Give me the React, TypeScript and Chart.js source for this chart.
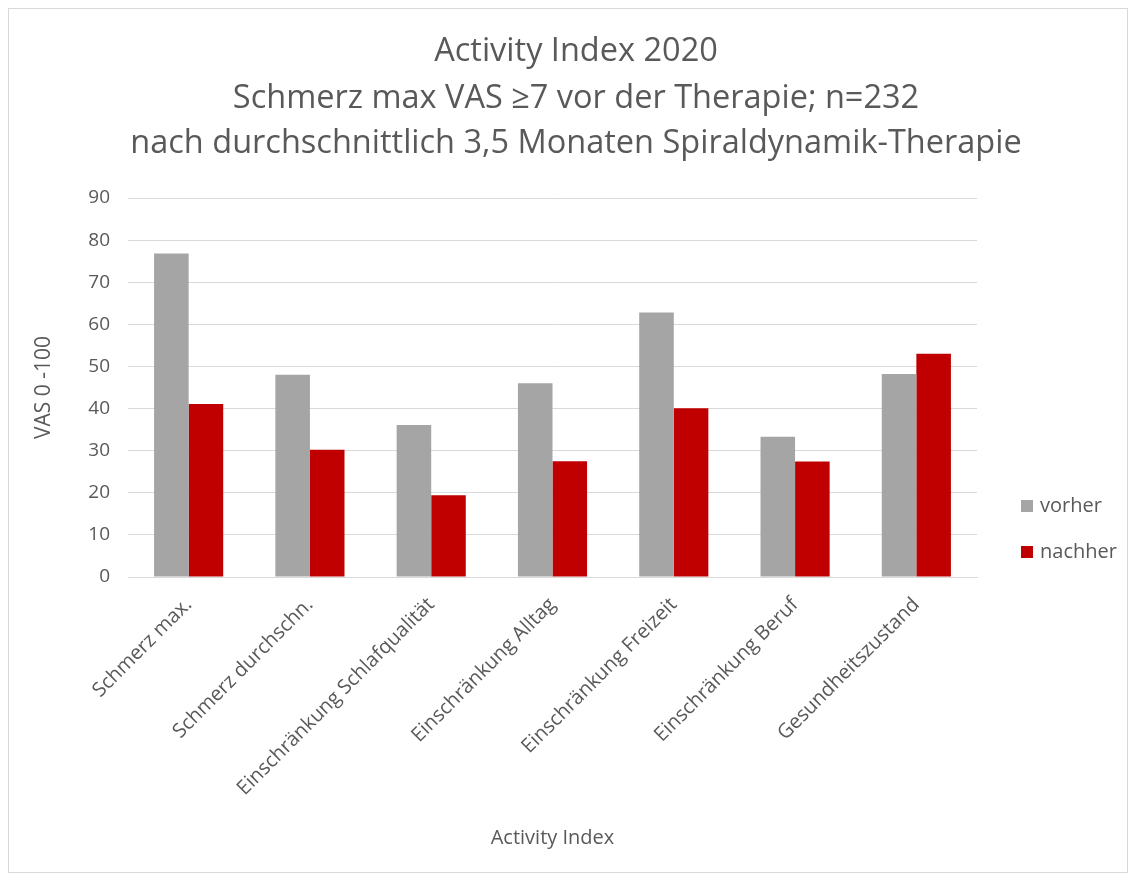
import React, { useEffect, useRef } from "react";
import { Chart, registerables } from "chart.js";

Chart.register(...registerables);

const categories = [
  "Schmerz max.",
  "Schmerz durchschn.",
  "Einschränkung Schlafqualität",
  "Einschränkung Alltag",
  "Einschränkung Freizeit",
  "Einschränkung Beruf",
  "Gesundheitszustand",
];
const vorher = [76.8, 48.0, 36.1, 46.0, 62.8, 33.3, 48.2];
const nachher = [41.1, 30.2, 19.4, 27.5, 40.1, 27.4, 53.0];
const titleLines = [
  "Activity Index 2020",
  "Schmerz max VAS ≥7 vor der Therapie; n=232",
  "nach durchschnittlich 3,5 Monaten Spiraldynamik-Therapie",
];
const yTitle = "VAS 0 -100";
const xTitle = "Activity Index";

const TEXT = "#595959";
const FONT = "'Open Sans', sans-serif";

const decorPlugin = {
  id: "decor",
  afterDraw(chart: any) {
    const ctx = chart.ctx;
    ctx.save();
    // title
    ctx.fillStyle = TEXT;
    ctx.textAlign = "center";
    ctx.textBaseline = "middle";
    ctx.font = `32.5px ${FONT}`;
    const tys = [43, 90, 135];
    titleLines.forEach((t, i) => ctx.fillText(t, 567, tys[i]));
    // legend
    ctx.font = `20px ${FONT}`;
    ctx.textAlign = "left";
    const x = chart.chartArea.right + 44;
    const ys = [497, 543];
    chart.data.datasets.forEach((ds: any, i: number) => {
      ctx.fillStyle = ds.backgroundColor;
      ctx.fillRect(x, ys[i] - 6, 12, 12);
      ctx.fillStyle = TEXT;
      ctx.fillText(ds.label, x + 19, ys[i]);
    });
    ctx.restore();
  },
};

export default function App() {
  const ref = useRef<HTMLCanvasElement>(null);
  useEffect(() => {
    if (!ref.current) return;
    const chart = new Chart(ref.current, {
      type: "bar",
      data: {
        labels: categories,
        datasets: [
          { label: "vorher", data: vorher, backgroundColor: "#a5a5a5" },
          { label: "nachher", data: nachher, backgroundColor: "#c00000" },
        ],
      },
      plugins: [decorPlugin],
      options: {
        responsive: false,
        animation: false,
        layout: { padding: { left: 0, right: 150, top: 189, bottom: 0 } },
        datasets: { bar: { categoryPercentage: 0.57, barPercentage: 1.0 } },
        plugins: {
          legend: { display: false },
          tooltip: { enabled: false },
          title: { display: false },
        },
        scales: {
          x: {
            grid: { display: false },
            border: { color: "#d9d9d9", width: 1 },
            ticks: {
              color: TEXT,
              font: { family: FONT, size: 20 },
              maxRotation: 45,
              minRotation: 45,
              autoSkip: false,
              padding: 8,
            },
            title: {
              display: true,
              text: xTitle,
              color: TEXT,
              font: { family: FONT, size: 20 },
              padding: { top: 10, bottom: 22 },
            },
            afterFit: (s: any) => {
              s.height = 295;
            },
          },
          y: {
            min: 0,
            max: 90,
            ticks: {
              stepSize: 10,
              color: TEXT,
              font: { family: FONT, size: 19 },
              padding: 18,
            },
            grid: { color: "#d9d9d9", drawTicks: false },
            border: { display: false },
            title: {
              display: true,
              text: yTitle,
              color: TEXT,
              font: { family: FONT, size: 21 },
              padding: { top: 22, bottom: 4 },
            },
            afterFit: (s: any) => {
              s.width = 119;
            },
          },
        },
      },
    });
    return () => chart.destroy();
  }, []);
  return (
    <div style={{ width: 1118, height: 863, border: "1px solid #d9d9d9", background: "#fff" }}>
      <canvas ref={ref} width={1118} height={863} style={{ display: "block" }} />
    </div>
  );
}
